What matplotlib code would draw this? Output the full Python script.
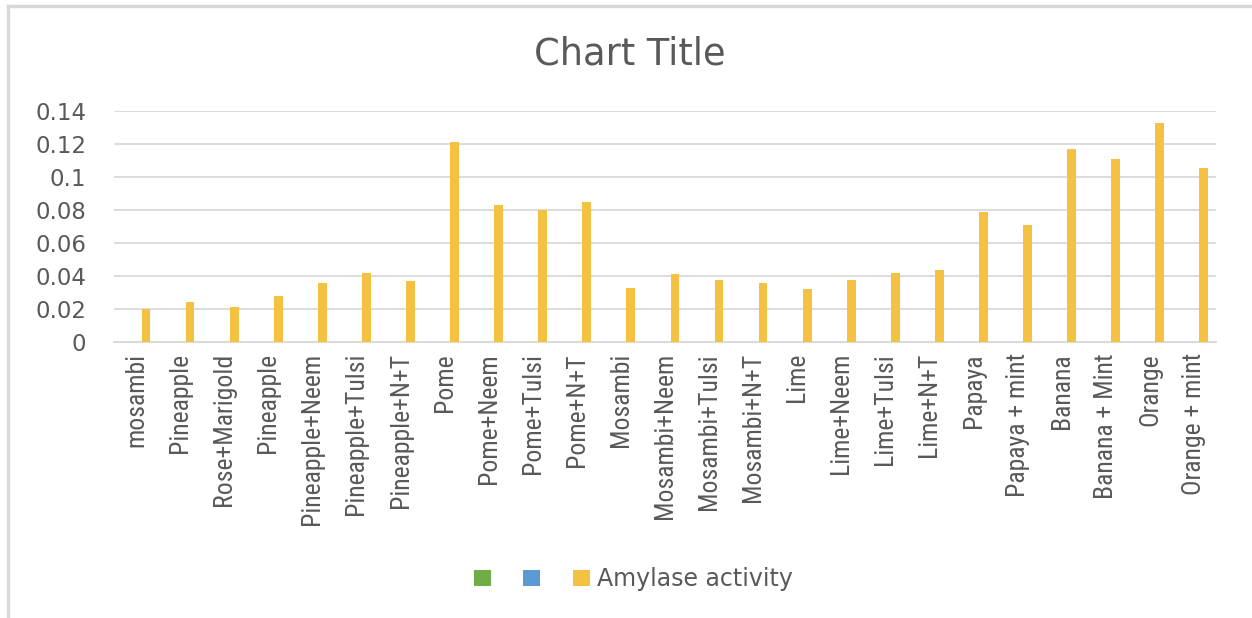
import matplotlib
matplotlib.use("Agg")
import matplotlib.pyplot as plt
import numpy as np
from matplotlib.patches import Patch
from matplotlib.lines import Line2D

categories = ["mosambi", "Pineapple", "Rose+Marigold", "Pineapple", "Pineapple+Neem",
              "Pineapple+Tulsi", "Pineapple+N+T", "Pome", "Pome+Neem", "Pome+Tulsi",
              "Pome+N+T", "Mosambi", "Mosambi+Neem", "Mosambi+Tulsi", "Mosambi+N+T",
              "Lime", "Lime+Neem", "Lime+Tulsi", "Lime+N+T", "Papaya", "Papaya + mint",
              "Banana", "Banana + Mint", "Orange", "Orange + mint"]
amylase = [0.020, 0.024, 0.0214, 0.028, 0.036, 0.042, 0.037, 0.1215, 0.083, 0.080,
           0.085, 0.033, 0.041, 0.0377, 0.036, 0.032, 0.0377, 0.042, 0.0435, 0.079,
           0.0707, 0.1167, 0.1108, 0.1325, 0.1057]
series1 = [np.nan] * len(categories)
series2 = [np.nan] * len(categories)
series_names = ["", "", "Amylase activity"]
yticks = [0, 0.02, 0.04, 0.06, 0.08, 0.1, 0.12, 0.14]
ytick_labels = ["0", "0.02", "0.04", "0.06", "0.08", "0.1", "0.12", "0.14"]

plt.rcParams['font.family'] = ['DejaVu Sans']
text_col = "#595959"
colors = ["#70AD47", "#5B9BD5", "#F4C142"]

fig = plt.figure(figsize=(12.52, 6.18), dpi=100)
ax = fig.add_axes([114/1252, 1-342/618, (1216-114)/1252, (342-111)/618])

x = np.arange(len(categories))
w = 0.2
for i, (vals, c) in enumerate(zip([series1, series2, amylase], colors)):
    ax.bar(x + (i - 1) * 0.225, vals, width=w, color=c, zorder=3)

ax.set_xlim(-0.5, len(categories) - 0.5)
ax.set_ylim(0, 0.14)
ax.set_yticks(yticks)
ax.set_yticklabels(ytick_labels)
ax.set_xticks(x)
ax.set_xticklabels(categories, rotation=90, va="top", ha="center",
                   family=["Roboto Condensed", "DejaVu Sans"], fontweight="normal",
                   fontsize=18.5)
ax.tick_params(axis="y", length=0, pad=20, labelsize=16.5, labelcolor=text_col)
ax.tick_params(axis="x", length=0, pad=8, labelcolor=text_col)
ax.grid(axis="y", color="#d9d9d9", linewidth=1.3, zorder=0)
for s in ["top", "right", "left"]:
    ax.spines[s].set_visible(False)
ax.spines["bottom"].set_color("#d9d9d9")
ax.spines["bottom"].set_linewidth(1.3)

fig.text(630/1252, 1-54/618, "Chart Title", ha="center", va="center",
         fontsize=26.5, color=text_col)

handles = [Patch(facecolor=c, edgecolor="none") for c in colors]
fig.legend(handles, series_names, loc="center left", bbox_to_anchor=(462/1252, 1-579/618),
           ncol=3, frameon=False, fontsize=17, labelcolor=text_col, borderpad=0,
           handlelength=0.72, handleheight=0.66, handletextpad=0.28, columnspacing=1.1)

# chart border (top and left edges visible)
fig.add_artist(Line2D([8/1252, 1], [1-6/618, 1-6/618], transform=fig.transFigure,
                      color="#d9d9d9", linewidth=2.5))
fig.add_artist(Line2D([8/1252, 8/1252], [0, 1-6/618], transform=fig.transFigure,
                      color="#d9d9d9", linewidth=2.5))

fig.savefig("out.png", dpi=100)
